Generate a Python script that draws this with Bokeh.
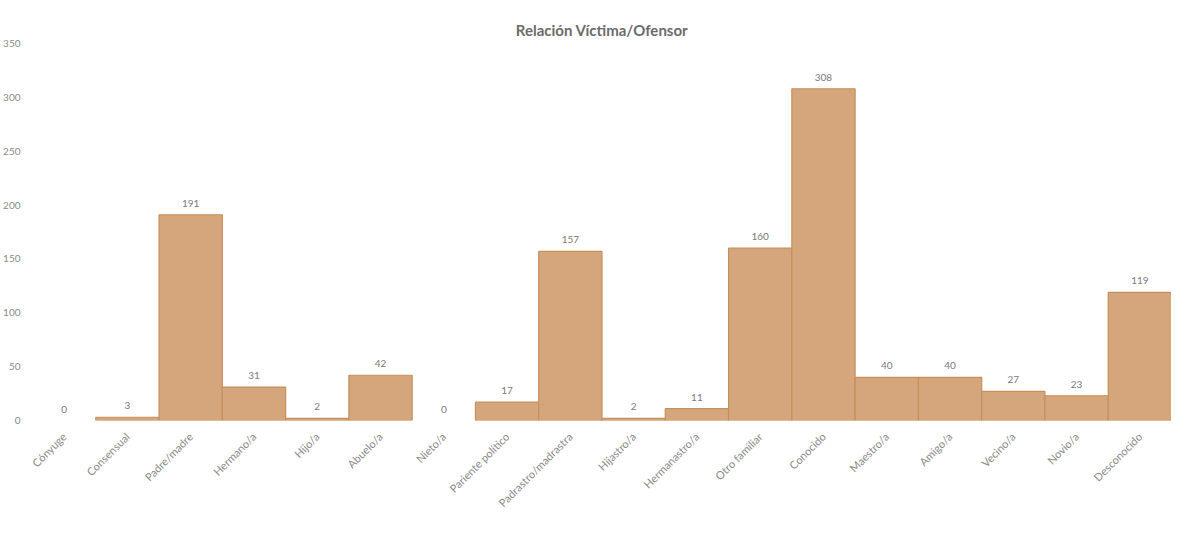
from bokeh.plotting import figure
from bokeh.models import ColumnDataSource, FactorRange, Range1d, FixedTicker
from bokeh.core.properties import value
from bokeh.embed import file_html
from bokeh.resources import INLINE
import math

title_text = "Relación Víctima/Ofensor"
categories = ["Cónyuge", "Consensual", "Padre/madre", "Hermano/a", "Hijo/a", "Abuelo/a",
              "Nieto/a", "Pariente político", "Padrastro/madrastra", "Hijastro/a",
              "Hermanastro/a", "Otro familiar", "Conocido", "Maestro/a", "Amigo/a",
              "Vecino/a", "Novio/a", "Desconocido"]
counts = [0, 3, 191, 31, 2, 42, 0, 17, 157, 2, 11, 160, 308, 40, 40, 27, 23, 119]
y_ticks = [0, 50, 100, 150, 200, 250, 300, 350]

FONT = "Lato"
src = ColumnDataSource(dict(
    cat=categories,
    val=counts,
    lbl=[str(v) for v in counts],
    alpha=[1.0 if v > 0 else 0.0 for v in counts],
))

p = figure(x_range=FactorRange(*categories, range_padding=0),
           y_range=Range1d(0, 350),
           width=1171, height=522,
           output_backend="svg", toolbar_location=None,
           min_border_left=25, min_border_right=0, min_border_top=43, min_border_bottom=102)

p.title.text = title_text
p.title.align = "center"
p.title.text_font = FONT
p.title.text_font_size = "15px"
p.title.text_font_style = "bold"
p.title.text_color = "#6b6b6b"

p.vbar(x="cat", top="val", width=1.0, source=src,
       fill_color="#D5A67C", line_color="#C68F5A", line_width=1.2,
       fill_alpha="alpha", line_alpha="alpha")

p.text(x="cat", y="val", text="lbl", source=src,
       text_font=value(FONT), text_font_size="10px", text_color="#7a7a7a",
       text_align="center", text_baseline="bottom", y_offset=-8)

p.outline_line_color = None
p.xgrid.grid_line_color = None
p.ygrid.grid_line_color = None

p.yaxis.ticker = FixedTicker(ticks=y_ticks)
p.yaxis.axis_line_color = None
p.yaxis.major_tick_line_color = None
p.yaxis.minor_tick_line_color = None
p.yaxis.major_label_text_font = FONT
p.yaxis.major_label_text_font_size = "10px"
p.yaxis.major_label_text_color = "#8a8a8a"
p.yaxis.major_label_standoff = 6

p.xaxis.axis_line_color = None
p.xaxis.major_tick_line_color = None
p.xaxis.minor_tick_line_color = None
p.xaxis.major_label_orientation = math.pi / 4
p.xaxis.major_label_text_font = FONT
p.xaxis.major_label_text_font_size = "11px"
p.xaxis.major_label_text_color = "#8a8a8a"
p.xaxis.major_label_standoff = 8

open("out.html", "w").write(file_html(p, INLINE))
